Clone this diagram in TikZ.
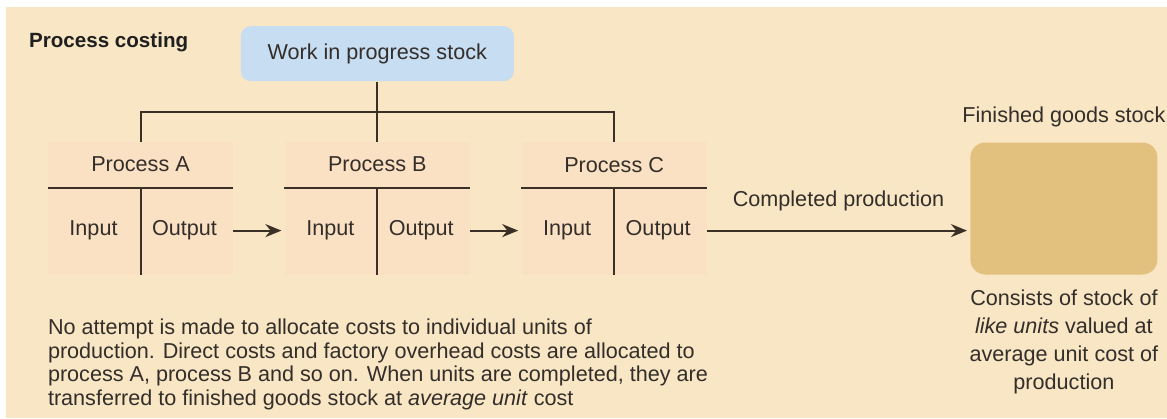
\documentclass[tikz,border=0pt]{standalone}
\usepackage{fontspec}
\setmainfont{Liberation Sans}
\usetikzlibrary{arrows.meta}
\usetikzlibrary{positioning}
\definecolor{pagebg}{HTML}{F8E6C4}
\definecolor{wipblue}{HTML}{C7DDF2}
\definecolor{procpeach}{HTML}{FBE1C4}
\definecolor{finbrown}{HTML}{E2C17F}
\definecolor{inkline}{HTML}{3A3026}
\definecolor{inktext}{HTML}{332E2A}
\tikzstyle{txt} = [text=inktext, font=\fontsize{10.8}{12}\selectfont]
\tikzstyle{wipbox} = [rectangle, rounded corners=5pt, fill=wipblue, minimum width=136.5pt, minimum height=27.5pt, text centered]
\tikzstyle{procbox} = [rectangle, fill=procpeach, minimum width=92.5pt, minimum height=66.5pt]
\tikzstyle{finbox} = [rectangle, rounded corners=7.5pt, fill=finbrown, minimum width=93.5pt, minimum height=66pt]
\tikzstyle{tline} = [draw=inkline, line width=1pt]
\tikzstyle{flow} = [draw=inkline, line width=1pt, -{Stealth[length=8pt, width=6.5pt]}]

\begin{document}
\begin{tikzpicture}[x=0.5pt, y=-0.5pt, node distance=25.5pt, every node/.append style={txt}]
\useasboundingbox (0,0) rectangle (1167,418);
\fill[white] (0,0) rectangle (1167,418);
\fill[pagebg] (6,7) rectangle (1167,418);

\node (title) [anchor=base west, text=black!88, font=\fontsize{10.3}{12}\selectfont\bfseries] at (22,47) {Process costing};

% the three process accounts
\node (procA) [procbox] at (140.5,208.5) {};
\node (procB) [procbox, right=of procA] {};
\node (procC) [procbox, right=of procB] {};
\node (fin) [finbox, right=131.5pt of procC] {};
\node (wip) [wipbox, above=30pt of procB] {Work in progress stock};

\foreach \n in {A,B,C}{
  \node (head\n) at ([yshift=-11.5pt]proc\n.north) {Process \n};
  \draw[tline] ([yshift=-23pt]proc\n.north west) -- ([yshift=-23pt]proc\n.north east);
  \draw[tline] ([yshift=-23pt]proc\n.north) -- (proc\n.south);
  \node (in\n) at ([xshift=-23.5pt, yshift=-44.5pt]proc\n.north) {Input};
  \node (out\n) at ([xshift=22pt, yshift=-44.5pt]proc\n.north) {Output};
}

% work in progress feeds each process
\coordinate (bar) at ([yshift=15pt]procB.north);
\draw[tline] (wip) -- (procB);
\draw[tline] (procA.north) |- (bar) -| (procC.north);

\draw[flow, shorten >=1.5pt] (procA.east |- outA) -- (procB.west |- inB);
\draw[flow, shorten >=1.5pt] (procB.east |- outB) -- (procC.west |- inC);
\draw[flow, shorten >=1.5pt] (procC.east |- outC) -- (fin.west |- inC)
  node (cplabel) [midway, above=6pt] {Completed production};

\node (fglabel) [above=4pt of fin] {Finished goods stock};
\node (finnote) [below=4pt of fin, align=center, font=\fontsize{10.8}{14}\selectfont] {Consists of stock of\\\textit{like units} valued at\\average unit cost of\\production};

\node (note) [anchor=north west, inner sep=0pt, align=left, font=\fontsize{10.8}{11.8}\selectfont] at ([yshift=-21.5pt]procA.south west) {No attempt is made to allocate costs to individual units of\\production. Direct costs and factory overhead costs are allocated to\\process A, process B and so on. When units are completed, they are\\transferred to finished goods stock at \textit{average unit} cost};
\end{tikzpicture}
\end{document}
